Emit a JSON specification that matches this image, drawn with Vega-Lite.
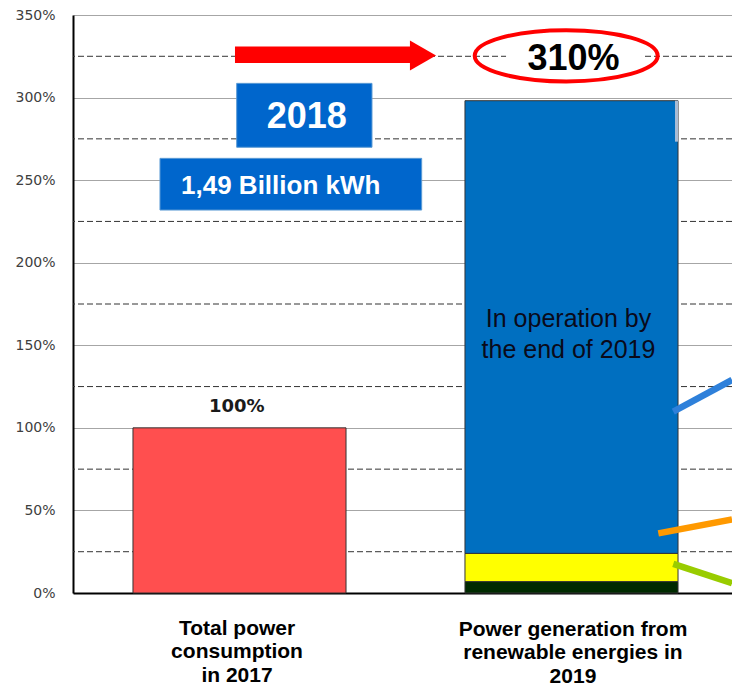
{
  "$schema": "https://vega.github.io/schema/vega-lite/v6.json",
  "width": 659,
  "height": 578,
  "autosize": {"type": "none"},
  "padding": {"left": 73, "top": 15, "right": 0, "bottom": 95},
  "background": "white",
  "config": {"view": {"stroke": null}, "font": "Liberation Sans"},
  "datasets": {
    "dashes": [{"level": 25}, {"level": 75}, {"level": 125}, {"level": 175}, {"level": 225}, {"level": 275}, {"level": 325}],
    "bars": [
      {"segment": "Total power consumption 2017", "left": 9.1, "right": 41.43, "bottom": 0, "top": 100},
      {"segment": "Renewables segment 1", "left": 59.48, "right": 91.81, "bottom": 0, "top": 6.9},
      {"segment": "Renewables segment 2", "left": 59.48, "right": 91.81, "bottom": 6.9, "top": 24},
      {"segment": "In operation by end of 2019", "left": 59.48, "right": 91.81, "bottom": 24, "top": 298.1}
    ],
    "sliver": [{"left": 91.35, "right": 91.81, "bottom": 273.3, "top": 298.1}],
    "gap": [{"left": 65.71, "right": 86.34, "bottom": 321.3, "top": 329.8}],
    "shaft": [{"left": 24.58, "right": 51.59, "bottom": 320.9, "top": 331.0}],
    "head": [{"x": 53.11, "y": 325.5}],
    "ring": [{"x": 74.84, "y": 325.3}],
    "big": [{"label": "310%", "x": 75.95, "y": 316.7}],
    "boxes": [
      {"box": "year", "left": 24.84, "right": 45.37, "bottom": 269.9, "top": 308.6},
      {"box": "amount", "left": 13.2, "right": 52.91, "bottom": 231.9, "top": 263.2}
    ],
    "boxText": [
      {"label": "2018", "x": 35.46, "y": 281.4, "size": "big"},
      {"label": "1,49 Billion kWh", "x": 31.52, "y": 241.6, "size": "small"}
    ],
    "pct": [{"label": "100%", "x": 24.84, "y": 109.8}],
    "oper": [{"label": "In operation by\nthe end of 2019", "x": 75.19, "y": 160.9}],
    "leaders": [
      {"series": "blue", "x": 91.09, "y": 109.8, "x2": 100, "y2": 129.0},
      {"series": "orange", "x": 88.82, "y": 36.1, "x2": 100, "y2": 44.6},
      {"series": "green", "x": 91.09, "y": 17.6, "x2": 100, "y2": 5.9}
    ],
    "cats": [
      {"label": "Total power\nconsumption\nin 2017", "x": 24.89, "y": -25.4},
      {"label": "Power generation from\nrenewable energies in\n2019", "x": 75.87, "y": -26.0}
    ]
  },
  "layer": [
    {
      "data": {"name": "dashes"},
      "mark": {"type": "rule", "color": "#333333", "strokeDash": [6, 3], "strokeWidth": 1},
      "encoding": {
        "y": {
          "field": "level", "type": "quantitative",
          "scale": {"domain": [0, 350], "nice": false, "zero": true},
          "axis": {
            "values": [0, 50, 100, 150, 200, 250, 300, 350],
            "labelExpr": "datum.value + '%'",
            "grid": true, "gridColor": "#A6A6A6", "gridWidth": 1,
            "domain": true, "domainColor": "#000000", "domainWidth": 2,
            "ticks": false, "labelPadding": 18,
            "labelFont": "DejaVu Sans", "labelFontSize": 14, "labelColor": "#404040",
            "title": null
          }
        }
      }
    },
    {
      "data": {"name": "bars"},
      "mark": {"type": "bar", "stroke": "#333333", "strokeWidth": 1},
      "encoding": {
        "x": {
          "field": "left", "type": "quantitative",
          "scale": {"domain": [0, 100], "nice": false, "zero": false},
          "axis": {"domain": true, "domainColor": "#000000", "domainWidth": 2, "labels": false, "ticks": false, "grid": false, "title": null}
        },
        "x2": {"field": "right"},
        "y": {"field": "bottom", "type": "quantitative"},
        "y2": {"field": "top"},
        "color": {
          "field": "segment", "type": "nominal",
          "scale": {
            "domain": ["Total power consumption 2017", "Renewables segment 1", "Renewables segment 2", "In operation by end of 2019"],
            "range": ["#FF4F4F", "#002A00", "#FFFF00", "#006FC0"]
          },
          "legend": null
        }
      }
    },
    {
      "data": {"name": "sliver"},
      "mark": {"type": "bar", "color": "#A9BCD4"},
      "encoding": {
        "x": {"field": "left", "type": "quantitative"},
        "x2": {"field": "right"},
        "y": {"field": "bottom", "type": "quantitative"},
        "y2": {"field": "top"}
      }
    },
    {
      "data": {"name": "gap"},
      "mark": {"type": "bar", "color": "#FFFFFF"},
      "encoding": {
        "x": {"field": "left", "type": "quantitative"},
        "x2": {"field": "right"},
        "y": {"field": "bottom", "type": "quantitative"},
        "y2": {"field": "top"}
      }
    },
    {
      "data": {"name": "ring"},
      "mark": {"type": "point", "shape": "M-1,0A1,0.28,0,1,0,1,0A1,0.28,0,1,0,-1,0Z", "size": 33489, "filled": false, "stroke": "#FF0000", "strokeWidth": 4, "opacity": 1},
      "encoding": {
        "x": {"field": "x", "type": "quantitative"},
        "y": {"field": "y", "type": "quantitative"}
      }
    },
    {
      "data": {"name": "big"},
      "mark": {"type": "text", "fontSize": 36, "fontWeight": "bold", "color": "#000000", "align": "center", "baseline": "alphabetic"},
      "encoding": {
        "x": {"field": "x", "type": "quantitative"},
        "y": {"field": "y", "type": "quantitative"},
        "text": {"field": "label"}
      }
    },
    {
      "data": {"name": "shaft"},
      "mark": {"type": "bar", "color": "#FF0000"},
      "encoding": {
        "x": {"field": "left", "type": "quantitative"},
        "x2": {"field": "right"},
        "y": {"field": "bottom", "type": "quantitative"},
        "y2": {"field": "top"}
      }
    },
    {
      "data": {"name": "head"},
      "mark": {"type": "point", "shape": "M-0.87,-1L0.87,0L-0.87,1Z", "size": 900, "filled": true, "color": "#FF0000", "opacity": 1},
      "encoding": {
        "x": {"field": "x", "type": "quantitative"},
        "y": {"field": "y", "type": "quantitative"}
      }
    },
    {
      "data": {"name": "boxes"},
      "mark": {"type": "bar", "color": "#0066CC", "stroke": "#5B9BD5", "strokeWidth": 1},
      "encoding": {
        "x": {"field": "left", "type": "quantitative"},
        "x2": {"field": "right"},
        "y": {"field": "bottom", "type": "quantitative"},
        "y2": {"field": "top"}
      }
    },
    {
      "data": {"name": "boxText"},
      "mark": {"type": "text", "fontWeight": "bold", "color": "#FFFFFF", "align": "center", "baseline": "alphabetic"},
      "encoding": {
        "x": {"field": "x", "type": "quantitative"},
        "y": {"field": "y", "type": "quantitative"},
        "text": {"field": "label"},
        "size": {"field": "size", "type": "nominal", "scale": {"domain": ["big", "small"], "range": [36, 26]}, "legend": null}
      }
    },
    {
      "data": {"name": "pct"},
      "mark": {"type": "text", "font": "DejaVu Sans", "fontSize": 18, "fontWeight": "bold", "color": "#1A1A1A", "align": "center", "baseline": "alphabetic"},
      "encoding": {
        "x": {"field": "x", "type": "quantitative"},
        "y": {"field": "y", "type": "quantitative"},
        "text": {"field": "label"}
      }
    },
    {
      "data": {"name": "oper"},
      "mark": {"type": "text", "fontSize": 25, "lineHeight": 31, "lineBreak": "\n", "color": "#0A0A1A", "align": "center", "baseline": "alphabetic"},
      "encoding": {
        "x": {"field": "x", "type": "quantitative"},
        "y": {"field": "y", "type": "quantitative"},
        "text": {"field": "label"}
      }
    },
    {
      "data": {"name": "leaders"},
      "mark": {"type": "rule", "strokeWidth": 6.5},
      "encoding": {
        "x": {"field": "x", "type": "quantitative"},
        "y": {"field": "y", "type": "quantitative"},
        "x2": {"field": "x2"},
        "y2": {"field": "y2"},
        "color": {"field": "series", "type": "nominal", "scale": {"domain": ["blue", "orange", "green"], "range": ["#2E80DA", "#FF9900", "#99CC00"]}, "legend": null}
      }
    },
    {
      "data": {"name": "cats"},
      "mark": {"type": "text", "fontSize": 21, "fontWeight": "bold", "lineHeight": 23.5, "lineBreak": "\n", "color": "#000000", "align": "center", "baseline": "alphabetic"},
      "encoding": {
        "x": {"field": "x", "type": "quantitative"},
        "y": {"field": "y", "type": "quantitative"},
        "text": {"field": "label"}
      }
    }
  ],
  "resolve": {"scale": {"color": "independent", "size": "independent"}}
}
